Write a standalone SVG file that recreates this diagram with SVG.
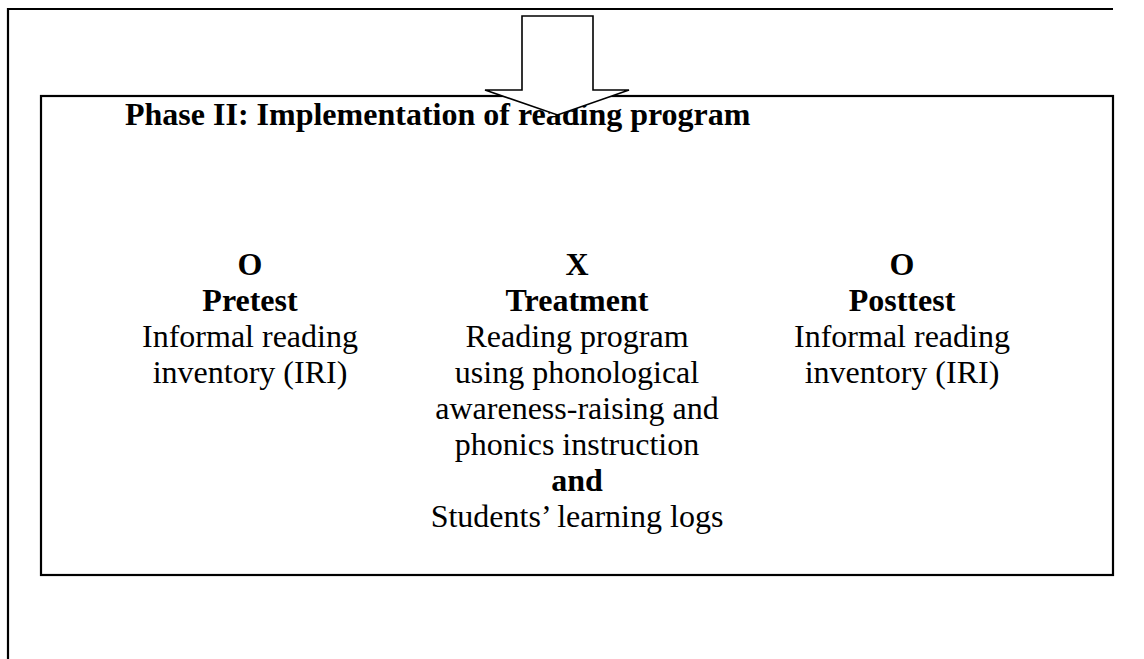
<svg xmlns="http://www.w3.org/2000/svg" width="1144" height="659" viewBox="0 0 1144 659">
<style>
.frame{fill:none;stroke:#000;stroke-width:2.2}
.t{font-family:"Liberation Serif","Times New Roman",serif;font-size:32px;fill:#000;text-anchor:middle}
.b{font-weight:bold}
.h{font-family:"Liberation Serif","Times New Roman",serif;font-size:32px;font-weight:bold;fill:#000}
.arrow{fill:#fff;stroke:#000;stroke-width:1.6;stroke-linejoin:miter}
</style>
<rect width="1144" height="659" fill="#fff"/>
<g id="outer-frame">
<polyline class="frame" points="8,659 8,9 1113,9"/>
</g>
<g id="phase2">
<rect class="frame" x="41" y="96" width="1072" height="479"/>
<text class="h" x="125" y="125">Phase II: Implementation of reading program</text>
</g>
<g id="pretest">
<text class="t b" x="250" y="275">O</text>
<text class="t b" x="250" y="311">Pretest</text>
<text class="t" x="250" y="347">Informal reading</text>
<text class="t" x="250" y="383">inventory (IRI)</text>
</g>
<g id="treatment">
<text class="t b" x="577" y="275">X</text>
<text class="t b" x="577" y="311">Treatment</text>
<text class="t" x="577" y="347">Reading program</text>
<text class="t" x="577" y="383">using phonological</text>
<text class="t" x="577" y="419">awareness-raising and</text>
<text class="t" x="577" y="455">phonics instruction</text>
<text class="t b" x="577" y="491">and</text>
<text class="t" x="577" y="527">Students’ learning logs</text>
</g>
<g id="posttest">
<text class="t b" x="902" y="275">O</text>
<text class="t b" x="902" y="311">Posttest</text>
<text class="t" x="902" y="347">Informal reading</text>
<text class="t" x="902" y="383">inventory (IRI)</text>
</g>
<g id="connectors">
<polygon class="arrow" points="522,16 593,16 593,90 629,90 557.5,115 485,90 522,90"/>
</g>
</svg>
